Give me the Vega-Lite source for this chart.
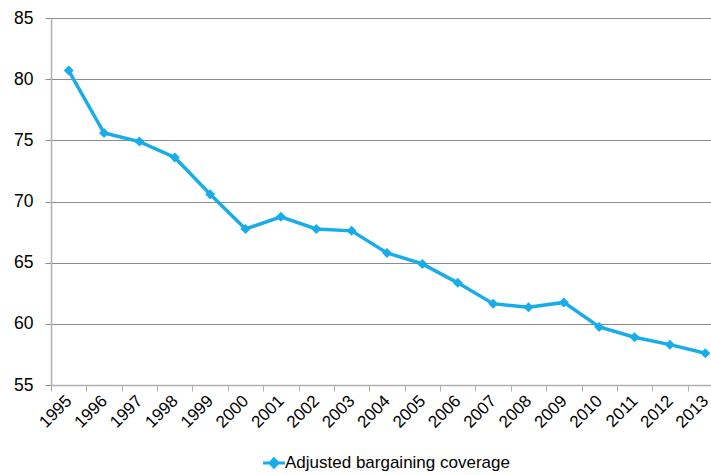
{
  "$schema": "https://vega.github.io/schema/vega-lite/v6.json",
  "autosize": {"type": "none"},
  "padding": {"left": 51, "top": 18, "right": 0, "bottom": 90},
  "width": 660,
  "height": 367,
  "background": "white",
  "data": {
    "values": [
      {"year": "1995", "value": 80.7, "series": "Adjusted bargaining coverage"},
      {"year": "1996", "value": 75.6, "series": "Adjusted bargaining coverage"},
      {"year": "1997", "value": 74.9, "series": "Adjusted bargaining coverage"},
      {"year": "1998", "value": 73.6, "series": "Adjusted bargaining coverage"},
      {"year": "1999", "value": 70.6, "series": "Adjusted bargaining coverage"},
      {"year": "2000", "value": 67.75, "series": "Adjusted bargaining coverage"},
      {"year": "2001", "value": 68.75, "series": "Adjusted bargaining coverage"},
      {"year": "2002", "value": 67.75, "series": "Adjusted bargaining coverage"},
      {"year": "2003", "value": 67.6, "series": "Adjusted bargaining coverage"},
      {"year": "2004", "value": 65.8, "series": "Adjusted bargaining coverage"},
      {"year": "2005", "value": 64.9, "series": "Adjusted bargaining coverage"},
      {"year": "2006", "value": 63.35, "series": "Adjusted bargaining coverage"},
      {"year": "2007", "value": 61.65, "series": "Adjusted bargaining coverage"},
      {"year": "2008", "value": 61.35, "series": "Adjusted bargaining coverage"},
      {"year": "2009", "value": 61.75, "series": "Adjusted bargaining coverage"},
      {"year": "2010", "value": 59.75, "series": "Adjusted bargaining coverage"},
      {"year": "2011", "value": 58.9, "series": "Adjusted bargaining coverage"},
      {"year": "2012", "value": 58.3, "series": "Adjusted bargaining coverage"},
      {"year": "2013", "value": 57.6, "series": "Adjusted bargaining coverage"}
    ]
  },
  "config": {
    "view": {"stroke": null},
    "font": "Liberation Sans",
    "axis": {
      "labelFont": "Liberation Sans",
      "labelColor": "#000000",
      "domainColor": "#b0b0b0",
      "tickColor": "#b0b0b0",
      "gridColor": "#8c8c8c"
    },
    "legend": {"labelFont": "Liberation Sans"}
  },
  "mark": {
    "type": "line",
    "strokeWidth": 3.5,
    "point": {"shape": "diamond", "filled": true, "size": 100, "color": "#18ADEA", "opacity": 1}
  },
  "encoding": {
    "x": {
      "field": "year",
      "type": "ordinal",
      "scale": {"type": "band", "paddingInner": 0, "paddingOuter": 0, "range": [0, 672]},
      "axis": {
        "title": null,
        "labelAngle": -45,
        "labelAlign": "right",
        "labelBaseline": "middle",
        "labelFontSize": 17,
        "labelPadding": 7,
        "tickBand": "extent",
        "tickSize": 6,
        "grid": false,
        "domainWidth": 1.5
      }
    },
    "y": {
      "field": "value",
      "type": "quantitative",
      "scale": {"domain": [55, 85], "nice": false, "zero": false},
      "axis": {
        "title": null,
        "values": [55, 60, 65, 70, 75, 80, 85],
        "labelFontSize": 17.5,
        "labelPadding": 12,
        "tickSize": 6,
        "tickColor": "#8c8c8c",
        "grid": true,
        "gridWidth": 1.2,
        "domainWidth": 1.5
      }
    },
    "color": {
      "field": "series",
      "type": "nominal",
      "scale": {"range": ["#18ADEA"]},
      "legend": {
        "title": null,
        "orient": "none",
        "legendX": 214,
        "legendY": 436,
        "labelFontSize": 17,
        "labelLimit": 400,
        "labelColor": "#000000",
        "labelOffset": 2,
        "symbolType": "M-1.5,0H1.5M0,-0.55L0.55,0L0,0.55L-0.55,0Z",
        "symbolSize": 215,
        "symbolStrokeWidth": 3,
        "symbolFillColor": "#18ADEA",
        "symbolStrokeColor": "#18ADEA"
      }
    }
  }
}
